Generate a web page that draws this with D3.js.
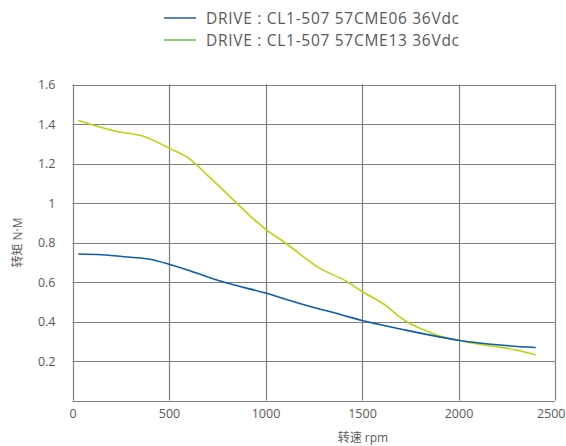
<!DOCTYPE html>
<html>
<head>
<meta charset="utf-8">
<script src="https://cdn.jsdelivr.net/npm/d3@7"></script>
<style>
  body { margin: 0; background: #fff; }
  text { font-family: "Open Sans", "Noto Sans CJK SC", sans-serif; fill: #595959; }
</style>
</head>
<body>
<div id="chart"></div>
<script>
    // data (rpm, N·M)
    const speed06 = [30, 150, 300, 400, 500, 600, 700, 800, 1000, 1200, 1400, 1500, 1700, 1900, 2000, 2200, 2400];
    const torque06 = [0.742, 0.738, 0.725, 0.715, 0.69, 0.66, 0.625, 0.595, 0.544, 0.485, 0.432, 0.405, 0.362, 0.322, 0.305, 0.282, 0.268];

    const speed13 = [30, 230, 370, 500, 600, 700, 850, 920, 1000, 1100, 1280, 1420, 1500, 1630, 1680, 1730, 1820, 1920, 2000, 2110, 2290, 2400];
    const torque13 = [1.418, 1.362, 1.337, 1.278, 1.228, 1.14, 1.0, 0.935, 0.868, 0.80, 0.67, 0.603, 0.552, 0.476, 0.435, 0.40, 0.358, 0.321, 0.304, 0.285, 0.257, 0.232];

    const seriesNames = ["DRIVE : CL1-507 57CME06 36Vdc", "DRIVE : CL1-507 57CME13 36Vdc"];
    const xTicks = [0, 500, 1000, 1500, 2000, 2500];
    const yTicks = [0.2, 0.4, 0.6, 0.8, 1, 1.2, 1.4, 1.6];

    const width = 566;
    const height = 446;
    const margin = {top: 84.5, left: 72.5, right: 11, bottom: 45.5};

    const viz = d3.select("#chart")
        .append("svg")
        .attr("width", width)
        .attr("height", height);

    // Scales
    const xScale = d3.scaleLinear()
        .domain([0, 2500])
        .range([margin.left, width - margin.right]);

    const yScale = d3.scaleLinear()
        .domain([0, 1.6])
        .range([height - margin.bottom, margin.top]);

    // Grid
    const grid = viz.append("g")
        .attr("stroke", "#7f7f7f")
        .attr("stroke-width", 1.2);

    grid.selectAll(".h")
        .data(yTicks)
        .enter()
        .append("line")
            .attr("x1", xScale(0))
            .attr("x2", xScale(2500))
            .attr("y1", function(d) { return Math.round(yScale(d)) + 0.5; })
            .attr("y2", function(d) { return Math.round(yScale(d)) + 0.5; });

    grid.selectAll(".v")
        .data(xTicks)
        .enter()
        .append("line")
            .attr("y1", yScale(0))
            .attr("y2", yScale(1.6))
            .attr("x1", function(d) { return Math.round(xScale(d)) + 0.5; })
            .attr("x2", function(d) { return Math.round(xScale(d)) + 0.5; });

    grid.append("line")
        .attr("x1", xScale(0))
        .attr("x2", xScale(2500))
        .attr("y1", Math.round(yScale(0)) + 0.5)
        .attr("y2", Math.round(yScale(0)) + 0.5);

    // Axes (labels only)
    const xAxis = viz.append("g")
        .attr("transform", `translate(0,${yScale(0) + 3})`)
        .call(d3.axisBottom(xScale).tickValues(xTicks).tickSize(0).tickPadding(6)
            .tickFormat(d3.format("d")));

    const yAxis = viz.append("g")
        .attr("transform", `translate(${xScale(0) - 6},0)`)
        .call(d3.axisLeft(yScale).tickValues(yTicks).tickSize(0).tickPadding(11)
            .tickFormat(function(d) { return d; }));

    viz.selectAll(".domain").remove();
    viz.selectAll(".tick text")
        .attr("font-size", 12.5)
        .attr("font-family", "'Open Sans', 'Noto Sans CJK SC', sans-serif")
        .attr("fill", "#595959");

    // last x label sits against the right edge
    xAxis.selectAll(".tick text")
        .filter(function(d) { return d == 2500; })
        .attr("text-anchor", "end")
        .attr("x", width - 1 - xScale(2500));

    // Labels
    viz.append("text")
        .attr("x", 363)
        .attr("y", 442)
        .attr("text-anchor", "middle")
        .attr("font-size", 12)
        .text("转速 rpm");

    viz.append("text")
        .attr("transform", `translate(22,${yScale(0.8)}) rotate(-90)`)
        .attr("text-anchor", "middle")
        .attr("font-size", 12)
        .text("转矩 N·M");

    // Lines
    const line = d3.line()
        .x(function(d) { return xScale(d[0]); })
        .y(function(d) { return yScale(d[1]); })
        .curve(d3.curveMonotoneX);

    const data06 = speed06.map(function(s, i) { return [s, torque06[i]]; });
    const data13 = speed13.map(function(s, i) { return [s, torque13[i]]; });

    viz.append("path")
        .datum(data13)
        .attr("d", line)
        .attr("fill", "none")
        .attr("stroke", "#bcd30c")
        .attr("stroke-width", 1.6);

    viz.append("path")
        .datum(data06)
        .attr("d", line)
        .attr("fill", "none")
        .attr("stroke", "#0d5cb0")
        .attr("stroke-width", 1.6);

    // Legend
    const legendColors = ["#1f5aa0", "#5cc63c"];
    const legend = viz.selectAll(".legend")
        .data(seriesNames)
        .enter()
        .append("g")
            .attr("transform", function(d, i) { return `translate(164,${18 + i * 22})`; });

    legend.append("line")
        .attr("x1", 0)
        .attr("x2", 32)
        .attr("stroke", function(d, i) { return legendColors[i]; })
        .attr("stroke-width", 1.5);

    legend.append("text")
        .attr("x", 42)
        .attr("y", 5.5)
        .attr("font-size", 15.5)
        .attr("textLength", 253)
        .attr("lengthAdjust", "spacing")
        .text(function(d) { return d; });
</script>
</body>
</html>
